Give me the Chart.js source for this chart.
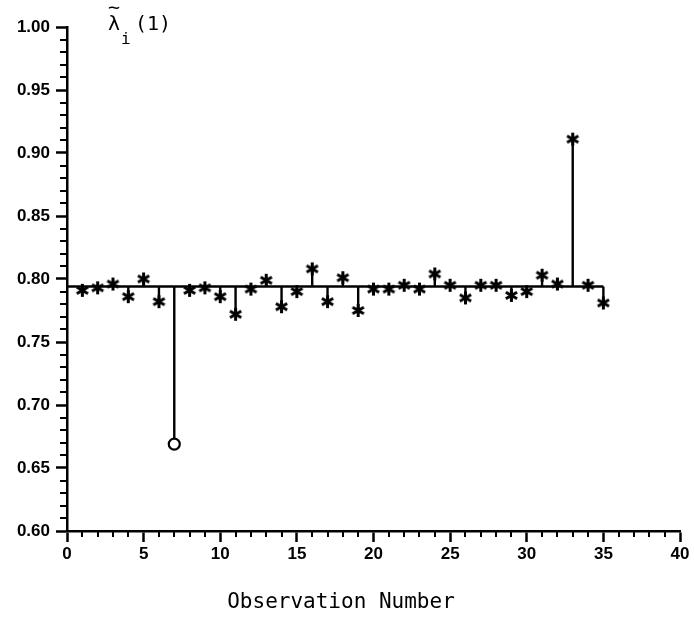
<!DOCTYPE html>
<html>
<head>
  <meta charset="UTF-8">
  <style>
    html, body { margin: 0; padding: 0; background: #fff; }
    #wrap { width: 694px; height: 618px; }
  </style>
</head>
<body>
  <div id="wrap"><canvas id="lambdaChart"></canvas></div>

  <script src="https://cdn.jsdelivr.net/npm/chart.js@4.4.0/dist/chart.umd.min.js"></script>
  <script>
    // observation number and the lambda_i(1) value read for it
    const observations = [1, 2, 3, 4, 5, 6, 7, 8, 9, 10, 11, 12, 13, 14, 15, 16, 17, 18,
      19, 20, 21, 22, 23, 24, 25, 26, 27, 28, 29, 30, 31, 32, 33, 34, 35]
    const lambdaValues = [0.791, 0.793, 0.796, 0.786, 0.800, 0.782, 0.669, 0.791, 0.793,
      0.786, 0.772, 0.792, 0.799, 0.778, 0.790, 0.808, 0.782, 0.801, 0.775, 0.792, 0.792,
      0.795, 0.792, 0.804, 0.795, 0.785, 0.795, 0.795, 0.787, 0.790, 0.803, 0.796, 0.911,
      0.795, 0.781]
    const baseline = 0.794
    const circled = [7]

    const xTicks = [0, 5, 10, 15, 20, 25, 30, 35, 40]
    const yTicks = [0.60, 0.65, 0.70, 0.75, 0.80, 0.85, 0.90, 0.95, 1.00]
    const xLabel = "Observation Number"

    // six armed asterisk used as marker
    function makeStar(size) {
      const c = document.createElement("canvas")
      c.width = size
      c.height = size
      const g = c.getContext("2d")
      const r = size / 2 - 1
      g.strokeStyle = "#000"
      g.lineWidth = 3
      g.translate(size / 2, size / 2)
      for (let k = 0; k < 3; k++) {
        const a = Math.PI / 2 + k * Math.PI / 3
        g.beginPath()
        g.moveTo(Math.cos(a) * r, Math.sin(a) * r)
        g.lineTo(-Math.cos(a) * r, -Math.sin(a) * r)
        g.stroke()
      }
      return c
    }
    const star = makeStar(15)

    const points = observations.map((x, i) => ({ x: x, y: lambdaValues[i] }))
    const stems = []
    observations.forEach((x, i) => {
      stems.push({ x: x, y: baseline }, { x: x, y: lambdaValues[i] }, { x: x, y: null })
    })
    const baseLine = [{ x: 0, y: baseline }, { x: observations[observations.length - 1], y: baseline }]

    // minor ticks plus the two labels in plotter type
    const extras = {
      id: "extras",
      afterDraw(chart) {
        const { ctx, scales: { x, y } } = chart
        ctx.save()
        ctx.strokeStyle = "#000"
        ctx.lineWidth = 2
        ctx.beginPath()
        for (let v = x.min; v <= x.max; v++) {
          if (v % 5 === 0) continue
          const px = Math.round(x.getPixelForValue(v))
          ctx.moveTo(px, x.top)
          ctx.lineTo(px, x.top + 6)
        }
        for (let k = 60; k <= 100; k++) {
          if (k % 5 === 0) continue
          const py = Math.round(y.getPixelForValue(k / 100))
          ctx.moveTo(y.right - 7, py)
          ctx.lineTo(y.right, py)
        }
        ctx.stroke()

        ctx.fillStyle = "#000"
        ctx.textBaseline = "alphabetic"
        // ~lambda_i(1)
        ctx.font = "20px 'DejaVu Sans Mono'"
        ctx.fillText("\u03bb", 108, 30)
        ctx.fillText("~", 108, 14)
        ctx.fillText("(1)", 135, 30)
        ctx.font = "16px 'DejaVu Sans Mono'"
        ctx.fillText("i", 121, 44)

        ctx.font = "21px 'DejaVu Sans Mono'"
        ctx.textAlign = "center"
        ctx.fillText(xLabel, 341, 608)
        ctx.restore()
      }
    }

    const tickFont = { family: "'Liberation Sans', Arial, sans-serif", size: 17, weight: "bold" }

    const chart = new Chart(document.getElementById("lambdaChart"), {
      type: "scatter",
      data: {
        datasets: [
          {
            data: points,
            pointStyle: (c) => circled.includes(c.raw && c.raw.x) ? "circle" : star,
            pointRadius: 5.5,
            pointBackgroundColor: "#fff",
            pointBorderColor: "#000",
            pointBorderWidth: 2.2,
            showLine: false
          },
          {
            data: stems,
            showLine: true,
            spanGaps: false,
            pointRadius: 0,
            borderColor: "#000",
            borderWidth: 2.4
          },
          {
            data: baseLine,
            showLine: true,
            pointRadius: 0,
            borderColor: "#000",
            borderWidth: 2.4
          }
        ]
      },
      options: {
        responsive: true,
        maintainAspectRatio: false,
        animation: false,
        layout: { padding: { left: 0, right: 14, top: 27, bottom: 0 } },
        plugins: {
          legend: { display: false },
          tooltip: { enabled: false }
        },
        scales: {
          x: {
            type: "linear",
            min: 0,
            max: 40,
            afterBuildTicks: (s) => { s.ticks = xTicks.map(v => ({ value: v })) },
            afterFit: (s) => { s.height = 87 },
            ticks: { color: "#000", font: tickFont, padding: 2, maxRotation: 0, callback: (v) => v },
            grid: { drawOnChartArea: false, tickLength: 11, tickWidth: 2.5, tickColor: "#000" },
            border: { color: "#000", width: 2.5 }
          },
          y: {
            type: "linear",
            min: 0.60,
            max: 1.00,
            afterBuildTicks: (s) => { s.ticks = yTicks.map(v => ({ value: v })) },
            afterFit: (s) => { s.width = 67 },
            ticks: { color: "#000", font: tickFont, padding: 6, callback: (v) => v.toFixed(2) },
            grid: { drawOnChartArea: false, tickLength: 11, tickWidth: 2.5, tickColor: "#000" },
            border: { color: "#000", width: 2.5 }
          }
        }
      },
      plugins: [extras]
    })
  </script>
</body>
</html>
